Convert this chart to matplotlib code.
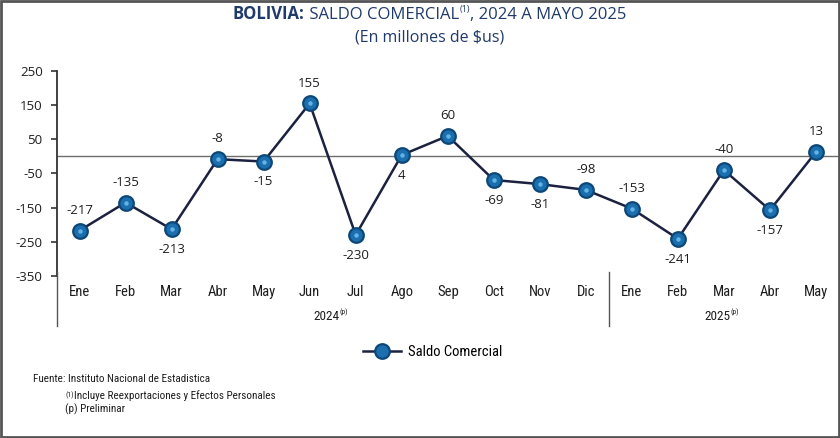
import matplotlib as mpl
import matplotlib.pyplot as plt
from matplotlib.lines import Line2D
from matplotlib import font_manager

# data (millones de $us)
months = ["Ene", "Feb", "Mar", "Abr", "May", "Jun", "Jul", "Ago", "Sep", "Oct", "Nov", "Dic",
          "Ene", "Feb", "Mar", "Abr", "May"]
saldo = [-217, -135, -213, -8, -15, 155, -230, 4, 60, -69, -81, -98,
         -153, -241, -40, -157, 13]
above = [1, 1, 0, 1, 0, 1, 0, 0, 1, 0, 0, 1,
         1, 0, 1, 0, 1]
years = ["2024", "2025"]
yticks = [250, 150, 50, -50, -150, -250, -350]

names = set(f.name for f in font_manager.fontManager.ttflist)
narrow = [n for n in ["Liberation Sans Narrow", "Roboto Condensed", "Open Sans Condensed",
                      "DejaVu Sans Condensed", "Noto Sans Condensed"] if n in names]
NARROW = narrow[:1] + ["Open Sans", "DejaVu Sans"]
SANS = ["Open Sans", "DejaVu Sans"]
TITLE_C = "#1f3a6b"
LINE_C = "#1c2140"
TXT = "#1e1e1e"

W, H = 840, 438
fig = plt.figure(figsize=(W / 100, H / 100), dpi=100)
x0, x1 = 56.5, 839
ytop, ybot = 71, 276
ax = fig.add_axes([x0 / W, 1 - ybot / H, (x1 - x0) / W, (ybot - ytop) / H])

n = len(saldo)
xs = list(range(n))
ax.plot(xs, saldo, color=LINE_C, lw=1.8, zorder=3)
ax.plot(xs, saldo, ls="none", marker="o", ms=10.5, mfc="#1b6fae", mec="#0d4777", mew=1.6, zorder=4)
ax.plot(xs, saldo, ls="none", marker="o", ms=3.2, mfc="#63b4e6", mec="none", zorder=5)

for i in range(n):
    off = 10 if above[i] else -10
    ax.annotate(str(saldo[i]), (xs[i], saldo[i]), xytext=(0, off), textcoords="offset points",
                ha="center", va="bottom" if above[i] else "top", fontsize=9.5,
                family=SANS, color=TXT)

ax.axhline(0, color="#6e6e6e", lw=1.0, zorder=1)
ax.set_xlim(-0.5, n - 0.5)
ax.set_ylim(-350, 250)
ax.set_yticks(yticks)
ax.set_yticklabels([str(v) for v in yticks], fontsize=9.5, family=SANS, color=TXT)
ax.tick_params(axis="y", length=4, width=1.2, direction="out", pad=6, color="#333333")
ax.set_xticks([])
for s in ["top", "right", "bottom"]:
    ax.spines[s].set_visible(False)
ax.spines["left"].set_linewidth(1.3)
ax.spines["left"].set_color("#333333")

# category axis below
def fx(i):
    return (x0 + (i + 0.5) * (x1 - x0) / n) / W

for i, m in enumerate(months):
    fig.text(fx(i), 1 - 292 / H, m, ha="center", va="center", fontsize=10.5, family=NARROW, color=TXT)

sep = (x0 + 12 * (x1 - x0) / n) / W
for xx in [x0 / W, sep]:
    fig.add_artist(Line2D([xx, xx], [1 - 272 / H, 1 - 326 / H], color="#555555", lw=1.0))

def year_label(xc, yr):
    fig.text(xc, 1 - 320 / H, yr, ha="right", va="baseline", fontsize=9.5, family=NARROW, color=TXT)
    fig.text(xc, 1 - 320 / H + 0.014, "(p)", ha="left", va="baseline", fontsize=5.5, family=NARROW, color=TXT)

year_label((fx(0) + fx(11)) / 2 + 0.008, years[0])
year_label((fx(12) + fx(16)) / 2 + 0.008, years[1])

# title with mixed styles
ty = 1 - 19 / H
t1 = fig.text(233 / W, ty, "BOLIVIA:", ha="left", va="baseline", fontsize=12, family=SANS,
              weight="bold", color=TITLE_C)
t2 = plt.annotate(" SALDO COMERCIAL", xy=(1, 0), xycoords=t1, va="bottom", ha="left",
                  fontsize=12, family=SANS, color=TITLE_C, annotation_clip=False)
t3 = plt.annotate("(1)", xy=(1, 0.55), xycoords=t2, va="bottom", ha="left",
                  fontsize=6.5, family=SANS, color=TITLE_C, annotation_clip=False)
t4 = plt.annotate(", 2024 A MAYO 2025", xy=(1, 0), xycoords=(t3, t2), va="bottom", ha="left",
                  fontsize=12, family=SANS, color=TITLE_C, annotation_clip=False)
fig.text(430 / W, 1 - 41 / H, "(En millones de $us)", ha="center", va="baseline", fontsize=11.5,
         family=SANS, color=TITLE_C)

# legend
h = Line2D([], [], color=LINE_C, lw=1.8, marker="o", ms=10.5, mfc="#1b6fae", mec="#0d4777", mew=1.6)
fig.legend([h], ["Saldo Comercial"], loc="center", bbox_to_anchor=(433 / W, 1 - 352 / H),
           frameon=False, prop={"family": NARROW, "size": 10.5}, handlelength=2.6, handletextpad=0.5)

# footnotes
fig.text(33 / W, 1 - 382 / H, "Fuente: Instituto Nacional de Estadistica", fontsize=8, family=NARROW, color=TXT)
f2 = fig.text(66 / W, 1 - 397 / H, "(1)", fontsize=5.5, family=NARROW, color=TXT)
plt.annotate("Incluye Reexportaciones y Efectos Personales", xy=(1, -0.3), xycoords=f2, va="bottom", ha="left",
             fontsize=8, family=NARROW, color=TXT, annotation_clip=False)
fig.text(65 / W, 1 - 412 / H, "(p) Preliminar", fontsize=8, family=NARROW, color=TXT)

# outer frame
fig.add_artist(plt.Rectangle((0.001, 0.002), 0.998, 0.996, transform=fig.transFigure, fill=False,
                             edgecolor="#555555", lw=2))

fig.savefig("out.png", dpi=100)
